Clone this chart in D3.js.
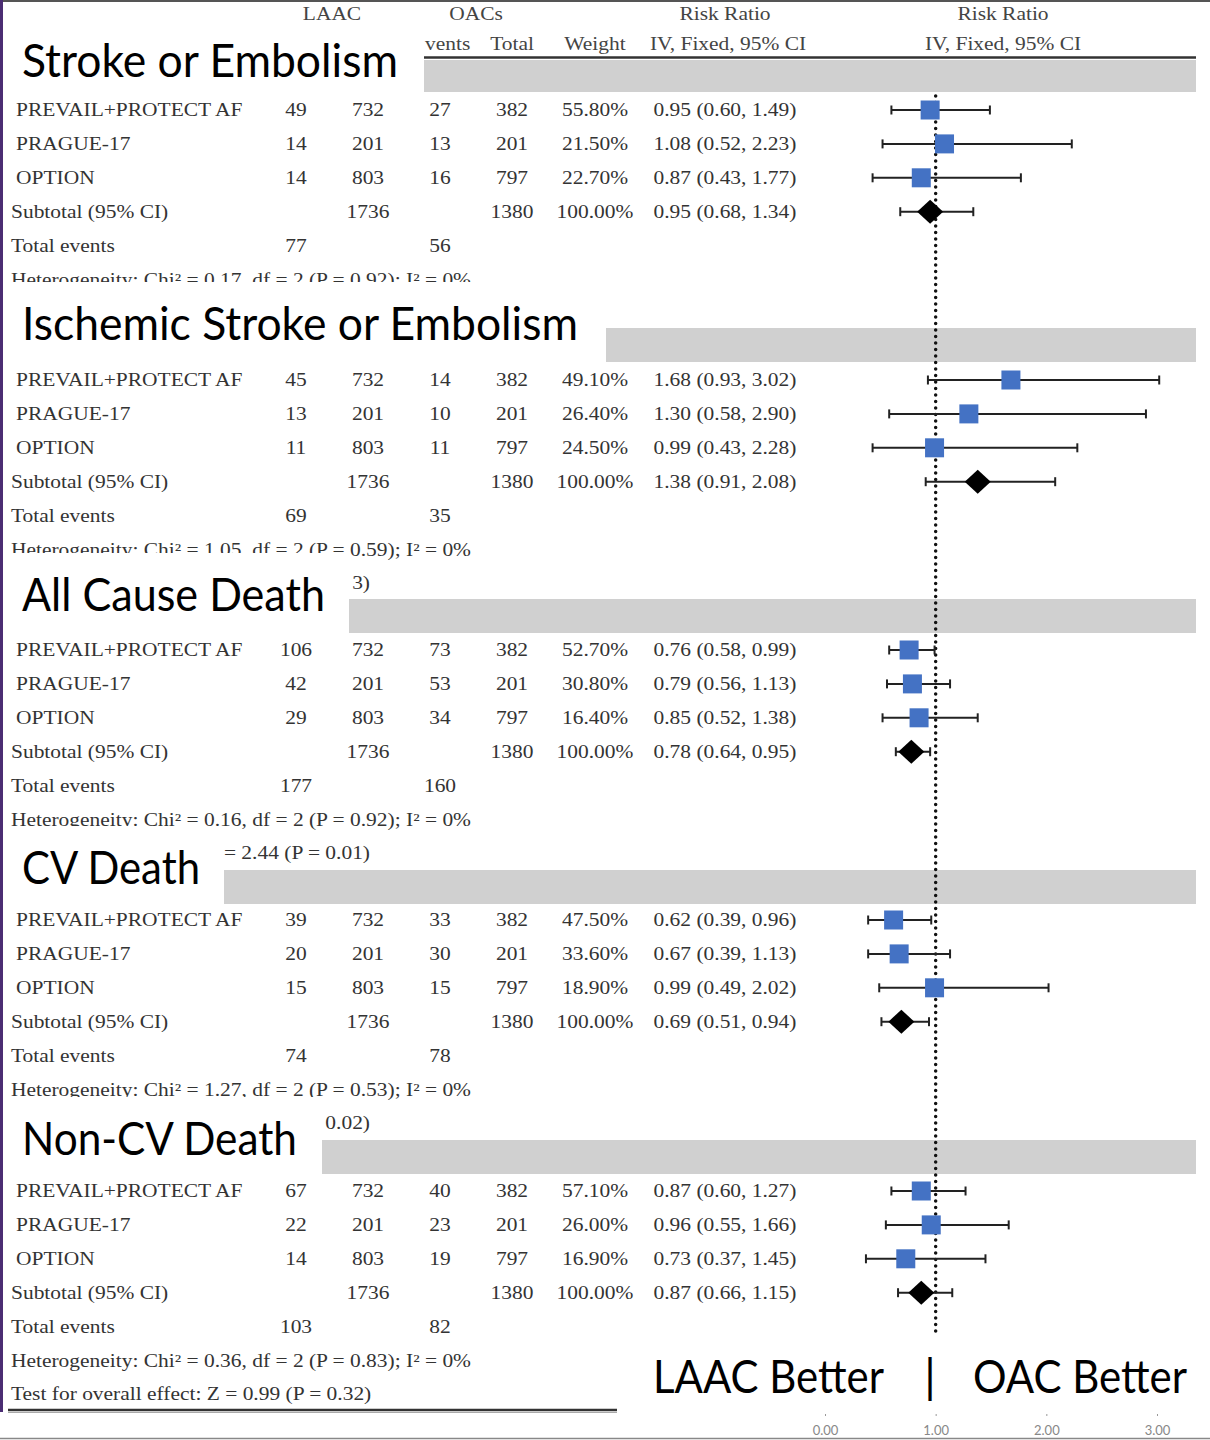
<!DOCTYPE html>
<html>
<head>
<meta charset="utf-8">
<script src="https://cdn.jsdelivr.net/npm/d3@7"></script>
<style>
  html, body { margin: 0; padding: 0; background: #fff; }
  svg { display: block; }
</style>
</head>
<body>
<svg id="chart" width="1210" height="1440"></svg>
<script>
// ---------------- DATA ----------------
const outcomes = ["Stroke or Embolism", "Ischemic Stroke or Embolism", "All Cause Death", "CV Death", "Non-CV Death"];
const studies = ["PREVAIL+PROTECT AF", "PRAGUE-17", "OPTION"];
const laacTotals = [732, 201, 803];
const oacTotals = [382, 201, 797];
const laacSubtotal = 1736;
const oacSubtotal = 1380;
const laacEvents = [[49, 14, 14], [45, 13, 11], [106, 42, 29], [39, 20, 15], [67, 22, 14]];
const oacEvents = [[27, 13, 16], [14, 10, 11], [73, 53, 34], [33, 30, 15], [40, 23, 19]];
const weights = [["55.80%", "21.50%", "22.70%"], ["49.10%", "26.40%", "24.50%"], ["52.70%", "30.80%", "16.40%"], ["47.50%", "33.60%", "18.90%"], ["57.10%", "26.00%", "16.90%"]];
const rrEst = [[0.95, 1.08, 0.87], [1.68, 1.30, 0.99], [0.76, 0.79, 0.85], [0.62, 0.67, 0.99], [0.87, 0.96, 0.73]];
const rrLow = [[0.60, 0.52, 0.43], [0.93, 0.58, 0.43], [0.58, 0.56, 0.52], [0.39, 0.39, 0.49], [0.60, 0.55, 0.37]];
const rrHigh = [[1.49, 2.23, 1.77], [3.02, 2.90, 2.28], [0.99, 1.13, 1.38], [0.96, 1.13, 2.02], [1.27, 1.66, 1.45]];
const subEst = [0.95, 1.38, 0.78, 0.69, 0.87];
const subLow = [0.68, 0.91, 0.64, 0.51, 0.66];
const subHigh = [1.34, 2.08, 0.95, 0.94, 1.15];
const totalLaac = [77, 69, 177, 74, 103];
const totalOac = [56, 35, 160, 78, 82];
const hetChi = ["0.17", "1.05", "0.16", "1.27", "0.36"];
const hetP = ["0.92", "0.59", "0.92", "0.53", "0.83"];
const testFragments = [null, "3)", "= 2.44 (P = 0.01)", "0.02)", "Test for overall effect: Z = 0.99 (P = 0.32)"];
const axisTicks = [0, 1, 2, 3];
const favourLeft = "LAAC Better";
const favourRight = "OAC Better";

// ---------------- LAYOUT ----------------
const svg = d3.select("#chart");
const W = 1210, H = 1440;
const serif = "'Liberation Serif', 'Times New Roman', serif";
const sans = "Lato, 'Open Sans', sans-serif";
const txtCol = "#333";
const SX = 1.16;        // horizontal stretch of the scanned table text
const FS = 18.5;

const x = d3.scaleLinear().domain([0, 3]).range([825, 1157]);

const sectionTop = [110, 380, 650, 920, 1191];
const rowStep = 33.9;
const rowY = (s, i) => sectionTop[s] + i * rowStep;

const colLaacEv = 296, colLaacTot = 368, colOacEv = 440, colOacTot = 512, colW = 595, colRR = 725;

const fmt = d3.format(".2f");
const rrText = (e, l, h) => `${fmt(e)} (${fmt(l)}, ${fmt(h)})`;

svg.append("rect").attr("x", 0).attr("y", 0).attr("width", W).attr("height", H).attr("fill", "#fff");

// gray section bars
const barLeft = [424, 606, 349, 224, 322];
const barTop = [60, 328, 599, 870, 1140];
const barH = [32, 34, 34, 34, 34];
outcomes.forEach((o, s) => {
  svg.append("rect").attr("x", barLeft[s]).attr("y", barTop[s])
    .attr("width", 1196 - barLeft[s]).attr("height", barH[s]).attr("fill", "#d0d0d0");
});

function stext(g, xp, yp, str, anchor, fill) {
  g.append("text").attr("transform", `translate(${xp},${yp}) scale(${SX},1)`)
    .attr("text-anchor", anchor || "middle").attr("fill", fill || txtCol).text(str);
}

// header
const hdr = svg.append("g").attr("font-family", serif).attr("font-size", FS);
stext(hdr, 332, 20, "LAAC", "middle", "#444");
stext(hdr, 476, 20, "OACs", "middle", "#444");
stext(hdr, 725, 20, "Risk Ratio", "middle", "#444");
stext(hdr, 1003, 20, "Risk Ratio", "middle", "#444");
stext(hdr, 425, 50, "vents", "start", "#444");
stext(hdr, 512, 50, "Total", "middle", "#444");
stext(hdr, 595, 50, "Weight", "middle", "#444");
stext(hdr, 728, 50, "IV, Fixed, 95% CI", "middle", "#444");
stext(hdr, 1003, 50, "IV, Fixed, 95% CI", "middle", "#444");
svg.append("line").attr("x1", 424).attr("x2", 1196).attr("y1", 57.5).attr("y2", 57.5)
  .attr("stroke", "#333").attr("stroke-width", 2.5);

// table text
const tbl = svg.append("g").attr("font-family", serif).attr("font-size", FS);
const t = (xp, yp, str, anchor) => stext(tbl, xp, yp + 6, str, anchor);
outcomes.forEach((o, s) => {
  studies.forEach((st, i) => {
    const y = rowY(s, i);
    t(16, y, st, "start");
    t(colLaacEv, y, laacEvents[s][i]);
    t(colLaacTot, y, laacTotals[i]);
    t(colOacEv, y, oacEvents[s][i]);
    t(colOacTot, y, oacTotals[i]);
    t(colW, y, weights[s][i]);
    t(colRR, y, rrText(rrEst[s][i], rrLow[s][i], rrHigh[s][i]));
  });
  const ys = rowY(s, 3);
  t(11, ys, "Subtotal (95% CI)", "start");
  t(colLaacTot, ys, laacSubtotal);
  t(colOacTot, ys, oacSubtotal);
  t(colW, ys, "100.00%");
  t(colRR, ys, rrText(subEst[s], subLow[s], subHigh[s]));
  const yt = rowY(s, 4);
  t(11, yt, "Total events", "start");
  t(colLaacEv, yt, totalLaac[s]);
  t(colOacEv, yt, totalOac[s]);
  t(11, rowY(s, 5), `Heterogeneity: Chi² = ${hetChi[s]}, df = 2 (P = ${hetP[s]}); I² = 0%`, "start");
  if (testFragments[s]) {
    if (s === outcomes.length - 1) t(11, rowY(s, 6), testFragments[s], "start");
    else t(370, rowY(s, 6), testFragments[s], "end");
  }
});

// bottom rule
svg.append("line").attr("x1", 8).attr("x2", 617).attr("y1", 1410).attr("y2", 1410).attr("stroke", "#333").attr("stroke-width", 2.5);
svg.append("line").attr("x1", 8).attr("x2", 617).attr("y1", 1412.5).attr("y2", 1412.5).attr("stroke", "#aaa").attr("stroke-width", 1);

// reference line (RR = 1)
svg.append("line").attr("x1", x(1)).attr("x2", x(1)).attr("y1", 96).attr("y2", 1334)
  .attr("stroke", "#111").attr("stroke-width", 3.5).attr("stroke-linecap", "round").attr("stroke-dasharray", "0,6.5");

// forest marks
const plot = svg.append("g");
function whisker(lo, hi, y) {
  plot.append("line").attr("x1", x(lo)).attr("x2", x(hi)).attr("y1", y).attr("y2", y).attr("stroke", "#222").attr("stroke-width", 2);
  [lo, hi].forEach(v => plot.append("line").attr("x1", x(v)).attr("x2", x(v)).attr("y1", y - 4.5).attr("y2", y + 4.5).attr("stroke", "#222").attr("stroke-width", 2));
}
outcomes.forEach((o, s) => {
  studies.forEach((st, i) => {
    const y = rowY(s, i);
    whisker(rrLow[s][i], rrHigh[s][i], y);
    plot.append("rect").attr("x", x(rrEst[s][i]) - 9.5).attr("y", y - 9.5).attr("width", 19).attr("height", 19).attr("fill", "#4472c4");
  });
  const y = rowY(s, 3);
  whisker(subLow[s], subHigh[s], y);
  const cx = x(subEst[s]);
  plot.append("path").attr("d", `M${cx - 13},${y} L${cx},${y - 12} L${cx + 13},${y} L${cx},${y + 12} Z`).attr("fill", "#000");
});

// title boxes (white panels with section titles)
const boxRight = [424, 606, 349, 224, 322];
const boxTop = [30, 282, 553, 826, 1097];
const boxBottom = [96, 364, 636, 906, 1176];
const titleBase = [77, 340, 611, 884, 1155];
const titleLen = [376, 556, 303, 178, 275];
outcomes.forEach((o, s) => {
  svg.append("rect").attr("x", 4).attr("y", boxTop[s]).attr("width", boxRight[s] - 4).attr("height", boxBottom[s] - boxTop[s]).attr("fill", "#fff");
  svg.append("text").attr("x", 22).attr("y", titleBase[s]).attr("font-family", sans).attr("font-size", 46)
    .attr("fill", "#000").attr("textLength", titleLen[s]).attr("lengthAdjust", "spacingAndGlyphs").text(o);
});

// favour labels
svg.append("text").attr("x", 653).attr("y", 1393).attr("font-family", sans).attr("font-size", 46).attr("fill", "#000")
  .attr("textLength", 231).attr("lengthAdjust", "spacingAndGlyphs").text(favourLeft);
svg.append("text").attr("x", 930).attr("y", 1393).attr("font-family", sans).attr("font-size", 46).attr("fill", "#000")
  .attr("text-anchor", "middle").text("|");
svg.append("text").attr("x", 973).attr("y", 1393).attr("font-family", sans).attr("font-size", 46).attr("fill", "#000")
  .attr("textLength", 214).attr("lengthAdjust", "spacingAndGlyphs").text(favourRight);

// axis
const axis = d3.axisBottom(x).tickValues(axisTicks).tickFormat(fmt).tickSize(2).tickPadding(10);
const ax = svg.append("g").attr("transform", "translate(0,1414)").call(axis);
ax.select(".domain").remove();
ax.selectAll(".tick line").attr("stroke", "#999");
ax.selectAll(".tick text").attr("font-family", sans).attr("font-size", 13).attr("fill", "#888");

// frame lines
svg.append("line").attr("x1", 0).attr("x2", W).attr("y1", 1).attr("y2", 1).attr("stroke", "#555").attr("stroke-width", 2);
svg.append("line").attr("x1", 0).attr("x2", W).attr("y1", 1438.5).attr("y2", 1438.5).attr("stroke", "#888").attr("stroke-width", 1.5);
svg.append("line").attr("x1", 1.5).attr("x2", 1.5).attr("y1", 0).attr("y2", 1412).attr("stroke", "#4b2d73").attr("stroke-width", 3);
</script>
</body>
</html>
